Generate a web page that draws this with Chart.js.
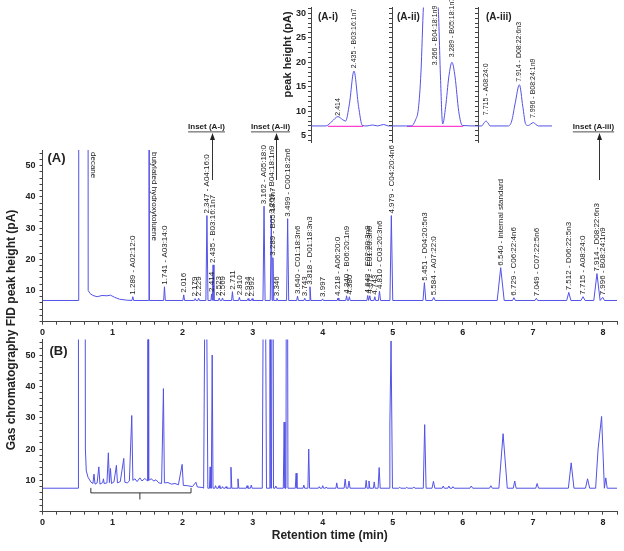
<!DOCTYPE html>
<html>
<head>
<meta charset="utf-8">
<script src="https://cdn.jsdelivr.net/npm/chart.js@4.4.0/dist/chart.umd.min.js"></script>
<style>
  body { margin: 0; background: #fff; }
  #figure { position: relative; width: 624px; height: 551px; overflow: hidden; background: #fff; }
  #figure canvas { position: absolute; }
  #yTitle {
    position: absolute; left: -148px; top: 322px; width: 320px; height: 16px;
    line-height: 16px; text-align: center; color: #222;
    font: bold 12px 'Liberation Sans', Arial, sans-serif;
    transform: rotate(-90deg); transform-origin: 50% 50%;
  }
</style>
</head>
<body>
<div id="figure">
  <canvas id="panelA" width="624" height="250" style="left:0;top:100px"></canvas>
  <canvas id="panelB" width="624" height="221" style="left:0;top:330px"></canvas>
  <canvas id="insetI" width="124" height="150" style="left:268px;top:0"></canvas>
  <canvas id="insetII" width="92" height="150" style="left:386px;top:0"></canvas>
  <canvas id="insetIII" width="86" height="150" style="left:472px;top:0"></canvas>
  <div id="yTitle">Gas chromatography FID peak height (pA)</div>
</div>
<script>
// ---------- panel (A): solvent front / early trace, then labelled peaks ----------
const frontTimesA = [0, 0.515, 0.517, 0.648, 0.652, 0.68, 0.72, 0.78, 0.85, 0.92, 0.97, 1.03, 1.10, 1.20];
const frontValuesA = [6.8, 6.8, 200, 200, 10, 9, 8.4, 8.0, 8.4, 8.3, 8.5, 7.8, 7.2, 6.9];
const baselineA = 6.8;

const peakTimesA = [1.289, 1.52, 1.741, 2.016, 2.179, 2.229, 2.347, 2.414, 2.435, 2.523, 2.569, 2.711, 2.810, 2.934,
  2.992, 3.162, 3.266, 3.289, 3.346, 3.499, 3.640, 3.743, 3.818, 3.997, 4.218, 4.340, 4.380, 4.642, 4.672, 4.743,
  4.810, 4.979, 5.451, 5.584, 6.540, 6.729, 7.049, 7.512, 7.715, 7.914, 7.996];
const peakHeightsA = [8.0, 200, 11.2, 8.6, 7.4, 7.5, 34, 8.9, 18.2, 7.6, 7.6, 9.6, 7.8, 7.4,
  7.4, 37, 34, 20.5, 7.5, 33, 8.2, 7.5, 11.2, 7.3, 7.6, 8.3, 8.0, 8.4, 8.3, 8.0,
  9.8, 34, 12.5, 7.8, 17.3, 7.7, 7.5, 9.4, 8.0, 15.4, 7.8];
const peakWidthsA = [0.012, 0.006, 0.012, 0.012, 0.012, 0.012, 0.015, 0.010, 0.012, 0.012, 0.012, 0.012, 0.012, 0.012,
  0.012, 0.015, 0.015, 0.012, 0.012, 0.015, 0.012, 0.012, 0.012, 0.012, 0.012, 0.012, 0.012, 0.012, 0.012, 0.012,
  0.015, 0.02, 0.02, 0.02, 0.05, 0.02, 0.02, 0.03, 0.03, 0.045, 0.025];
const peakLabelsA = ['1.289 - A02:12:0', '', '1.741 - A03:14:0', '2.016', '2.179', '2.229', '2.347 - A04:16:0', '2.414',
  '2.435 - B03:16:1n7', '2.523', '2.569', '2.711', '2.810', '2.934', '2.992', '3.162 - A05:18:0', '3.266 - B04:18:1n9',
  '3.289 - B05:18:1n7', '3.346', '3.499 - C00:18:2n6', '3.640 - C01:18:3n6', '3.743', '3.818 - D01:18:3n3', '3.997',
  '4.218 - A06:20:0', '4.340 - B06:20:1n9', '4.380', '4.642 - E02:20:3n9', '4.672 - E01:20:3n6', '4.743',
  '4.810 - C03:20:3n6', '4.979 - C04:20:4n6', '5.451 - D04:20:5n3', '5.584 - A07:22:0', '6.540 - internal standard',
  '6.729 - C06:22:4n6', '7.049 - C07:22:5n6', '7.512 - D06:22:5n3', '7.715 - A08:24:0', '7.914 - D08:22:6n3',
  '7.996 - B08:24:1n9'];

const topNamesA = ['decane', 'butylated hydroxytoluene'];
const topNameTimesA = [0.65, 1.52];
const insetNamesA = ['Inset (A-i)', 'Inset (A-ii)', 'Inset (A-iii)'];
const insetTimesA = [2.42, 3.336, 7.95];

// ---------- panel (B) ----------
const frontTimesB = [0, 0.511, 0.513, 0.605, 0.612, 0.625, 0.65, 0.69, 0.72, 0.735, 0.75, 0.78, 0.804, 0.82, 0.86,
  0.87, 0.88, 0.92, 0.94, 0.955, 0.97, 0.985, 1.02, 1.055, 1.07, 1.11, 1.16, 1.175, 1.21, 1.24, 1.274, 1.29, 1.32,
  1.35, 1.39, 1.42, 1.46, 1.50, 1.507, 1.515, 1.55, 1.59, 1.62, 1.66, 1.70, 1.726, 1.74, 1.79, 1.84, 1.89, 1.94,
  1.993, 2.01, 2.07, 2.14, 2.19, 2.21, 2.29];
const frontValuesB = [7.5, 7.5, 200, 200, 20, 13, 11, 9.5, 9, 12, 8.8, 9.2, 14.3, 8.8, 9.3,
  10.5, 9.0, 9.2, 18.8, 9.3, 13.8, 9.0, 9.5, 14.8, 9.2, 9.6, 17, 9.4, 9.2, 9.8, 30.7, 10, 10.5,
  9.6, 10.8, 9.8, 10.6, 9.8, 200, 10, 10.5, 9.8, 10.2, 9.2, 9.0, 39.3, 9.2, 9.3, 8.8, 9.0, 8.6,
  15.1, 8.4, 8.3, 8.0, 9.4, 7.9, 7.7];
const baselineB = 7.5;

const peakTimesB = [2.33, 2.393, 2.422, 2.47, 2.52, 2.57, 2.62, 2.69, 2.79, 2.92, 2.98, 3.167, 3.245, 3.283, 3.33,
  3.449, 3.489, 3.62, 3.73, 3.80, 3.95, 4.00, 4.05, 4.20, 4.32, 4.375, 4.62, 4.66, 4.735, 4.805, 4.958, 4.975,
  5.10, 5.20, 5.30, 5.455, 5.58, 5.72, 5.80, 5.86, 6.12, 6.40, 6.574, 6.74, 7.06, 7.546, 7.78, 7.93, 7.98, 8.04];
const peakHeightsB = [110, 14.3, 50, 8.3, 8.3, 8.0, 8.0, 14.2, 10.5, 8.3, 8.5, 140, 200, 200, 8.2,
  28.6, 200, 12.3, 8.5, 20, 8.0, 8.3, 7.9, 9.2, 10.4, 9.8, 10, 9.8, 9.5, 14.1, 28, 54.5,
  7.8, 7.8, 7.9, 27.8, 9.7, 8.2, 8.2, 8.0, 8.2, 8.3, 24.9, 9.8, 9.0, 15.6, 10.5, 20, 30.4, 10.8];
const peakWidthsB = [0.03, 0.010, 0.012, 0.012, 0.012, 0.012, 0.012, 0.012, 0.012, 0.012, 0.012, 0.03, 0.012, 0.014, 0.012,
  0.012, 0.014, 0.012, 0.012, 0.012, 0.012, 0.012, 0.012, 0.012, 0.015, 0.015, 0.012, 0.012, 0.012, 0.015, 0.012, 0.02,
  0.015, 0.015, 0.015, 0.02, 0.02, 0.015, 0.015, 0.015, 0.02, 0.02, 0.06, 0.02, 0.02, 0.04, 0.03, 0.035, 0.055, 0.02];
const bracketTimesB = [0.69, 1.39, 2.12];

// ---------- insets (A-i), (A-ii), (A-iii) ----------
const insetTimesI = [2.3786, 2.398, 2.406, 2.414, 2.420, 2.424, 2.429, 2.435, 2.441, 2.446, 2.452, 2.459, 2.466, 2.474, 2.480, 2.4849];
const insetValuesI = [7.0, 7.0, 7.9, 8.9, 8.3, 8.0, 11.5, 18.2, 11.0, 7.1, 7.0, 7.2, 7.0, 7.3, 7.0, 7.0];
const baseTimesI = [2.401, 2.447];
const labelTimesI = [2.414, 2.435];
const labelValuesI = [9.1, 18.8];
const labelTextsI = ['2.414', '2.435 - B03:16:1n7'];

const insetTimesII = [3.2315, 3.2500, 3.2540, 3.2568, 3.2593, 3.2617, 3.2680, 3.2759, 3.2780, 3.2801, 3.2830, 3.2860,
  3.2890, 3.2920, 3.2955, 3.2990, 3.3140];
const insetValuesII = [7.0, 7.0, 8.2, 10.5, 18.0, 31.5, 45.0, 31.0, 17.0, 7.4, 11.0, 17.0, 20.0, 17.0, 10.0, 7.1, 7.0];
const baseTimesII = [3.2459, 3.2996];
const labelTimesII = [3.2727, 3.289];
const labelValuesII = [19.4, 21.0];
const labelTextsII = ['3.266 - B04:18:1n9', '3.289 - B05:18:1n7'];

const insetTimesIII = [7.6674, 7.689, 7.703, 7.715, 7.727, 7.739, 7.848, 7.868, 7.888, 7.914, 7.934, 7.952, 7.967,
  7.982, 7.997, 8.012, 8.027, 8.108];
const insetValuesIII = [7.0, 7.0, 7.6, 8.0, 7.6, 7.0, 7.0, 8.0, 11.5, 15.4, 11.0, 7.3, 7.1, 7.4, 7.7, 7.3, 7.0, 7.0];
const labelTimesIII = [7.715, 7.914, 7.996];
const labelValuesIII = [9.2, 16.0, 8.6];
const labelTextsIII = ['7.715 - A08:24:0', '7.914 - D08:22:6n3', '7.996 - B08:24:1n9'];
const insetBaseline = 6.9;

// ---------- styles ----------
const fontFamily = "'Liberation Sans', Arial, sans-serif";
const axisColor = '#444';
const textColor = '#222';
const traceColor = '#5252e6';
const pinkColor = '#ff40d0';

// trace through the peak list: foot - apex - foot, touching peaks meet apex to apex
function buildTrace(frontT, frontV, times, heights, widths, base, endT) {
  const pts = frontT.map((t, i) => ({x: t, y: frontV[i]}));
  let lastX = frontT[frontT.length - 1];
  for (let i = 0; i < times.length; i++) {
    const left = times[i] - widths[i];
    if (left > lastX) pts.push({x: left, y: base});
    pts.push({x: times[i], y: heights[i]});
    lastX = times[i];
    const right = times[i] + widths[i];
    const nextLeft = i + 1 < times.length ? times[i + 1] - widths[i + 1] : Infinity;
    if (right < nextLeft) {
      pts.push({x: right, y: base});
      lastX = right;
    }
  }
  pts.push({x: endT, y: base});
  return pts;
}

function toPoints(times, values) {
  return times.map((t, i) => ({x: t, y: values[i]}));
}

// rotated peak labels, reading bottom to top, sitting on the given value
function peakLabelPlugin(id, times, values, texts, fontSize, gap) {
  return {
    id: id,
    afterDatasetsDraw(chart) {
      const {ctx, chartArea, scales} = chart;
      ctx.save();
      ctx.font = fontSize + 'px ' + fontFamily;
      ctx.fillStyle = textColor;
      ctx.textAlign = 'left';
      ctx.textBaseline = 'middle';
      times.forEach((t, i) => {
        if (!texts[i]) return;
        const px = scales.x.getPixelForValue(t);
        const py = Math.max(scales.y.getPixelForValue(values[i]) - gap, chartArea.top);
        ctx.save();
        ctx.translate(px, py);
        ctx.rotate(-Math.PI / 2);
        ctx.fillText(texts[i], 0, 0);
        ctx.restore();
      });
      ctx.restore();
    }
  };
}

const panelAExtras = {
  id: 'panelAExtras',
  afterDatasetsDraw(chart) {
    const {ctx, chartArea: area, scales: {x}} = chart;
    ctx.save();
    ctx.fillStyle = textColor;
    ctx.strokeStyle = '#333';
    ctx.lineWidth = 1;

    //panel tag
    ctx.font = 'bold 13px ' + fontFamily;
    ctx.textBaseline = 'middle';
    ctx.textAlign = 'left';
    ctx.fillText('(A)', area.left + 5, area.top + 8);

    //names written downwards from the top
    ctx.font = '8px ' + fontFamily;
    topNameTimesA.forEach((t, i) => {
      ctx.save();
      ctx.translate(x.getPixelForValue(t) + 1.5, area.top + 2);
      ctx.rotate(Math.PI / 2);
      ctx.textBaseline = 'bottom';
      ctx.fillText(topNamesA[i], 0, 0);
      ctx.restore();
    });

    //inset pointers
    ctx.font = 'bold 8px ' + fontFamily;
    ctx.textAlign = 'center';
    insetTimesA.forEach((t, i) => {
      const px = Math.round(x.getPixelForValue(t)) + 0.5;
      ctx.beginPath();
      ctx.moveTo(px, area.top + 30);
      ctx.lineTo(px, area.top - 12);
      ctx.stroke();
      ctx.beginPath();
      ctx.moveTo(px, area.top - 17);
      ctx.lineTo(px - 2.5, area.top - 10);
      ctx.lineTo(px + 2.5, area.top - 10);
      ctx.closePath();
      ctx.fill();
      const cx = px - 6;
      ctx.fillText(insetNamesA[i], cx, area.top - 23);
      const w = ctx.measureText(insetNamesA[i]).width;
      ctx.fillRect(cx - w / 2, area.top - 18.5, w, 0.8);
    });
    ctx.restore();
  }
};

const panelBExtras = {
  id: 'panelBExtras',
  afterDatasetsDraw(chart) {
    const {ctx, chartArea: area, scales: {x, y}} = chart;
    ctx.save();
    ctx.fillStyle = textColor;
    ctx.font = 'bold 13px ' + fontFamily;
    ctx.textBaseline = 'middle';
    ctx.fillText('(B)', area.left + 7, area.top + 12);

    //bracket under the early region
    const x0 = x.getPixelForValue(bracketTimesB[0]);
    const xm = x.getPixelForValue(bracketTimesB[1]);
    const x1 = x.getPixelForValue(bracketTimesB[2]);
    const yTop = y.getPixelForValue(7.6);
    const yBar = y.getPixelForValue(6.0);
    const yTip = y.getPixelForValue(3.9);
    ctx.strokeStyle = '#333';
    ctx.lineWidth = 1;
    ctx.beginPath();
    ctx.moveTo(x0, yTop);
    ctx.lineTo(x0, yBar);
    ctx.lineTo(x1, yBar);
    ctx.lineTo(x1, yTop);
    ctx.moveTo(xm, yBar);
    ctx.lineTo(xm, yTip);
    ctx.stroke();
    ctx.restore();
  }
};

function insetTitlePlugin(id, title, dx, withYTitle) {
  return {
    id: id,
    afterDatasetsDraw(chart) {
      const {ctx, chartArea: area} = chart;
      ctx.save();
      ctx.fillStyle = textColor;
      ctx.font = 'bold 10px ' + fontFamily;
      ctx.textBaseline = 'middle';
      ctx.textAlign = 'left';
      ctx.fillText(title, area.left + dx, area.top + 10);
      if (withYTitle) {
        ctx.save();
        ctx.translate(area.left - 23, area.top + 47);
        ctx.rotate(-Math.PI / 2);
        ctx.textAlign = 'center';
        ctx.font = 'bold 11px ' + fontFamily;
        ctx.fillText('peak height (pA)', 0, 0);
        ctx.restore();
      }
      ctx.restore();
    }
  };
}

function tickFont() {
  return {size: 9, weight: 'bold', family: fontFamily};
}

function mainChart(canvasId, data, padTop, xHeight, showTitle, plugins) {
  return new Chart(document.getElementById(canvasId), {
    type: 'line',
    data: {
      datasets: [{
        data: data,
        borderColor: traceColor,
        borderWidth: 1,
        pointRadius: 0,
        tension: 0,
        fill: false
      }]
    },
    options: {
      responsive: false,
      animation: false,
      devicePixelRatio: 1,
      parsing: false,
      layout: {padding: {top: padTop, right: 7, bottom: 0, left: 0}},
      plugins: {legend: {display: false}, tooltip: {enabled: false}},
      scales: {
        x: {
          type: 'linear',
          min: 0,
          max: 8.2,
          border: {display: true, color: axisColor},
          grid: {drawOnChartArea: false, tickLength: 3, color: axisColor},
          ticks: {
            stepSize: 0.2, autoSkip: false, maxRotation: 0, padding: 2, color: textColor, font: tickFont(),
            callback: v => Math.abs(v - Math.round(v)) < 1e-6 ? String(Math.round(v)) : ''
          },
          title: {
            display: showTitle, text: 'Retention time (min)', color: textColor,
            font: {size: 12, weight: 'bold', family: fontFamily}, padding: {top: 0, bottom: 8}
          },
          afterFit: s => { s.height = xHeight; }
        },
        y: {
          min: 0,
          max: 55,
          border: {display: true, color: axisColor},
          grid: {drawOnChartArea: false, tickLength: 3, color: axisColor},
          ticks: {
            stepSize: 2, includeBounds: false, autoSkip: false, padding: 4, color: textColor, font: tickFont(),
            callback: v => (v > 0 && Math.abs(v % 10) < 1e-6) ? String(v) : ''
          },
          afterFit: s => { s.width = 42.5; }
        }
      }
    },
    plugins: plugins
  });
}

function insetChart(canvasId, trace, baseTimes, min, max, yWidth, padRight, showTickLabels, plugins) {
  const datasets = [{
    data: trace, borderColor: traceColor, borderWidth: 1, pointRadius: 0,
    cubicInterpolationMode: 'monotone', fill: false
  }];
  if (baseTimes) {
    datasets.push({
      data: toPoints(baseTimes, [insetBaseline, insetBaseline]),
      borderColor: pinkColor, borderWidth: 1.2, pointRadius: 0, fill: false
    });
  }
  return new Chart(document.getElementById(canvasId), {
    type: 'line',
    data: {datasets: datasets},
    options: {
      responsive: false,
      animation: false,
      devicePixelRatio: 1,
      parsing: false,
      layout: {padding: {top: 5, right: padRight, bottom: 5, left: 0}},
      plugins: {legend: {display: false}, tooltip: {enabled: false}},
      scales: {
        x: {type: 'linear', min: min, max: max, display: false},
        y: {
          min: 3.6,
          max: 31.2,
          border: {display: true, color: axisColor},
          grid: {drawOnChartArea: false, tickLength: 3, color: axisColor},
          ticks: {
            stepSize: 1, includeBounds: false, autoSkip: false, padding: 2, color: textColor, font: tickFont(),
            callback: v => (showTickLabels && Math.abs(v % 5) < 1e-6) ? String(v) : ''
          },
          afterFit: s => { s.width = yWidth; }
        }
      }
    },
    plugins: plugins
  });
}

//main panels
const traceA = buildTrace(frontTimesA, frontValuesA, peakTimesA, peakHeightsA, peakWidthsA, baselineA, 8.2);
const traceB = buildTrace(frontTimesB, frontValuesB, peakTimesB, peakHeightsB, peakWidthsB, baselineB, 8.2);

mainChart('panelA', traceA, 50, 28.3, false, [
  peakLabelPlugin('labelsA', peakTimesA, peakHeightsA, peakLabelsA, 8, 2),
  panelAExtras
]);
mainChart('panelB', traceB, 8, 39.3, true, [panelBExtras]);

//insets
insetChart('insetI', toPoints(insetTimesI, insetValuesI), baseTimesI, 2.3786, 2.4849, 43, 0, true, [
  peakLabelPlugin('labelsI', labelTimesI, labelValuesI, labelTextsI, 7, 0),
  insetTitlePlugin('titleI', '(A-i)', 7, true)
]);
insetChart('insetII', toPoints(insetTimesII, insetValuesII), baseTimesII, 3.2315, 3.314, 6, 0, false, [
  peakLabelPlugin('labelsII', labelTimesII, labelValuesII, labelTextsII, 7, 0),
  insetTitlePlugin('titleII', '(A-ii)', 5, false)
]);
insetChart('insetIII', toPoints(insetTimesIII, insetValuesIII), null, 7.6674, 8.108, 6, 6, false, [
  peakLabelPlugin('labelsIII', labelTimesIII, labelValuesIII, labelTextsIII, 7, 0),
  insetTitlePlugin('titleIII', '(A-iii)', 8, false)
]);
</script>
</body>
</html>
